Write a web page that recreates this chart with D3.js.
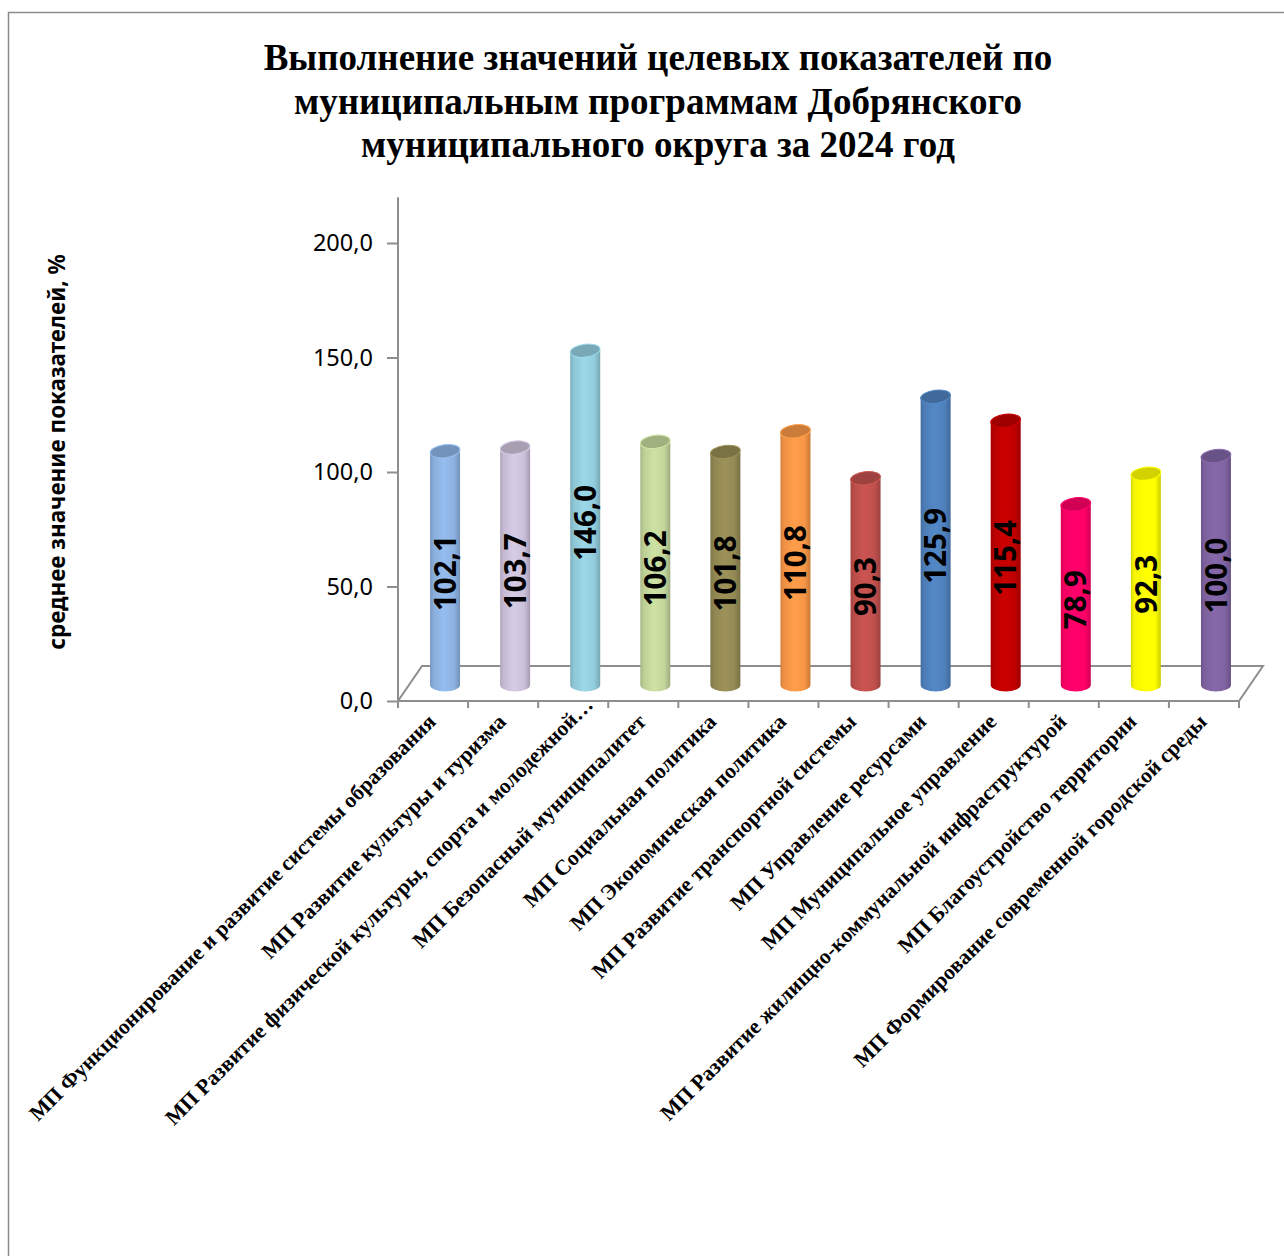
<!DOCTYPE html>
<html lang="ru">
<head>
    <meta charset="UTF-8">
    <title>Выполнение значений целевых показателей</title>
    <script src="https://d3js.org/d3.v7.min.js"></script>
    <style>
        body {
            margin: 0;
            background-color: #ffffff;
            overflow: hidden;
        }
        .title-line {
            font-family: "Liberation Serif", "Times New Roman", serif;
            font-weight: bold;
            font-size: 37px;
            fill: #000;
        }
        .cat-label {
            font-family: "Liberation Serif", "Times New Roman", serif;
            font-weight: bold;
            font-size: 21.6px;
            fill: #000;
        }
        .y-tick text {
            font-family: "Noto Sans", sans-serif;
            font-size: 23.5px;
            fill: #000;
        }
        .y-title {
            font-family: "Noto Sans", sans-serif;
            font-weight: bold;
            font-size: 22.5px;
        }
        .bar-label {
            font-family: "Noto Sans", sans-serif;
            font-weight: bold;
            font-size: 29.5px;
            fill: #000;
        }
    </style>
</head>
<body>
    <div id="chart"></div>

    <script>
        const titleLines = [
            "Выполнение значений целевых показателей по",
            "муниципальным программам Добрянского",
            "муниципального округа за 2024 год"
        ];
        const categories = [
            "МП Функционирование и развитие системы образования",
            "МП Развитие культуры и туризма",
            "МП Развитие физической культуры, спорта и молодежной…",
            "МП Безопасный муниципалитет",
            "МП Социальная политика",
            "МП Экономическая политика",
            "МП Развитие транспортной системы",
            "МП Управление ресурсами",
            "МП Муниципальное управление",
            "МП Развитие жилищно-коммунальной инфраструктурой",
            "МП Благоустройство территории",
            "МП Формирование современной городской среды"
        ];
        const values = [102.1, 103.7, 146.0, 106.2, 101.8, 110.8, 90.3, 125.9, 115.4, 78.9, 92.3, 100.0];
        const barColors = ["#8DB3E2", "#CCC1DA", "#93CDDD", "#C3D69B", "#948A54", "#F79646",
                           "#C0504D", "#4F81BD", "#C00000", "#FF0066", "#FFFF00", "#8064A2"];
        const yTicks = [0, 50, 100, 150, 200];
        const yTitle = "среднее значение показателей, %";

        const width = 1284;
        const height = 1256;
        const fmt = v => v.toFixed(1).replace(".", ",");

        // front plane of the 3D floor and its depth offset
        const x0 = 398, x1 = 1239, yFront = 701;
        const depthX = 24, depthY = -35;
        const barShiftX = 12, barShiftY = -16;

        const svg = d3.select("#chart")
            .append("svg")
            .attr("width", width)
            .attr("height", height);

        // outer chart border
        svg.append("rect")
            .attr("x", 8.5).attr("y", 12.5)
            .attr("width", width + 10).attr("height", height + 10)
            .attr("fill", "none")
            .attr("stroke", "#8c8c8c")
            .attr("stroke-width", 1.5);

        // title
        svg.append("g")
            .selectAll("text")
            .data(titleLines)
            .join("text")
            .attr("class", "title-line")
            .attr("x", 658)
            .attr("y", (d, i) => 70 + i * 43.5)
            .attr("text-anchor", "middle")
            .text(d => d);

        const x = d3.scaleBand()
            .domain(categories)
            .range([x0, x1])
            .padding(0);

        const y = d3.scaleLinear()
            .domain([0, 200])
            .range([yFront, 243]);

        const grey = "#8e8e8e";

        // floor
        svg.append("path")
            .attr("d", `M${x0},${yFront} L${x1},${yFront} L${x1 + depthX},${yFront + depthY} L${x0 + depthX},${yFront + depthY} Z`)
            .attr("fill", "none")
            .attr("stroke", grey)
            .attr("stroke-width", 2);

        // category ticks
        svg.append("g")
            .selectAll("line")
            .data(d3.range(categories.length + 1))
            .join("line")
            .attr("x1", i => x0 + i * x.step())
            .attr("x2", i => x0 + i * x.step())
            .attr("y1", yFront)
            .attr("y2", yFront + 7)
            .attr("stroke", grey)
            .attr("stroke-width", 2);

        // value axis
        const yAxis = svg.append("g")
            .attr("class", "y-tick")
            .attr("transform", `translate(${x0},0)`)
            .call(d3.axisLeft(y).tickValues(yTicks).tickFormat(fmt).tickSize(11).tickPadding(14));
        yAxis.select(".domain").remove();
        yAxis.selectAll(".tick line").attr("stroke", grey).attr("stroke-width", 2);
        yAxis.append("line")
            .attr("x1", 0).attr("x2", 0)
            .attr("y1", y(220)).attr("y2", yFront + 7)
            .attr("stroke", grey)
            .attr("stroke-width", 2);

        // y title
        svg.append("text")
            .attr("class", "y-title")
            .attr("transform", "translate(65,452) rotate(-90)")
            .attr("text-anchor", "middle")
            .text(yTitle);

        // cylinder gradients
        const defs = svg.append("defs");
        barColors.forEach((c, i) => {
            const g = defs.append("linearGradient")
                .attr("id", `cyl-${i}`)
                .attr("x1", "0%").attr("x2", "100%")
                .attr("y1", "0%").attr("y2", "0%");
            const base = d3.color(c);
            g.append("stop").attr("offset", "0%").attr("stop-color", base.darker(0.45));
            g.append("stop").attr("offset", "12%").attr("stop-color", base.darker(0.1));
            g.append("stop").attr("offset", "45%").attr("stop-color", base.brighter(0.15));
            g.append("stop").attr("offset", "80%").attr("stop-color", base);
            g.append("stop").attr("offset", "100%").attr("stop-color", base.darker(0.6));
        });

        const rx = 15, ry = 6.5;
        const bars = svg.append("g")
            .selectAll("g")
            .data(values.map((v, i) => ({ v, i, cat: categories[i], color: barColors[i] })))
            .join("g")
            .attr("transform", `translate(${barShiftX},${barShiftY})`);

        bars.append("path")
            .attr("d", d => {
                const cx = x(d.cat) + x.bandwidth() / 2;
                const yb = y(0), yt = y(d.v);
                return `M${cx - rx},${yt} L${cx - rx},${yb} A${rx},${ry} 0 0 0 ${cx + rx},${yb} L${cx + rx},${yt} Z`;
            })
            .attr("fill", d => `url(#cyl-${d.i})`);

        bars.append("ellipse")
            .attr("cx", d => x(d.cat) + x.bandwidth() / 2)
            .attr("cy", d => y(d.v))
            .attr("rx", rx)
            .attr("ry", ry)
            .attr("transform", d => `rotate(-7,${x(d.cat) + x.bandwidth() / 2},${y(d.v)})`)
            .attr("fill", d => d3.color(d.color).darker(0.55))
            .attr("stroke", d => d3.color(d.color).brighter(0.2))
            .attr("stroke-width", 1);

        bars.append("text")
            .attr("class", "bar-label")
            .attr("transform", d => {
                const cx = x(d.cat) + x.bandwidth() / 2;
                const cy = (y(0) + y(d.v)) / 2 + 5;
                return `translate(${cx},${cy}) rotate(-90)`;
            })
            .attr("text-anchor", "middle")
            .attr("dy", "0.36em")
            .text(d => fmt(d.v));

        // category labels (the truncated one sits a bit further along its line)
        svg.append("g")
            .selectAll("text")
            .data(categories)
            .join("text")
            .attr("class", "cat-label")
            .attr("transform", d => `translate(${x(d) + x.bandwidth() / 2 + 4},${yFront + 22}) rotate(-45)`)
            .attr("text-anchor", "end")
            .attr("dx", d => d.endsWith("…") ? 24 : 0)
            .text(d => d);
    </script>
</body>
</html>
